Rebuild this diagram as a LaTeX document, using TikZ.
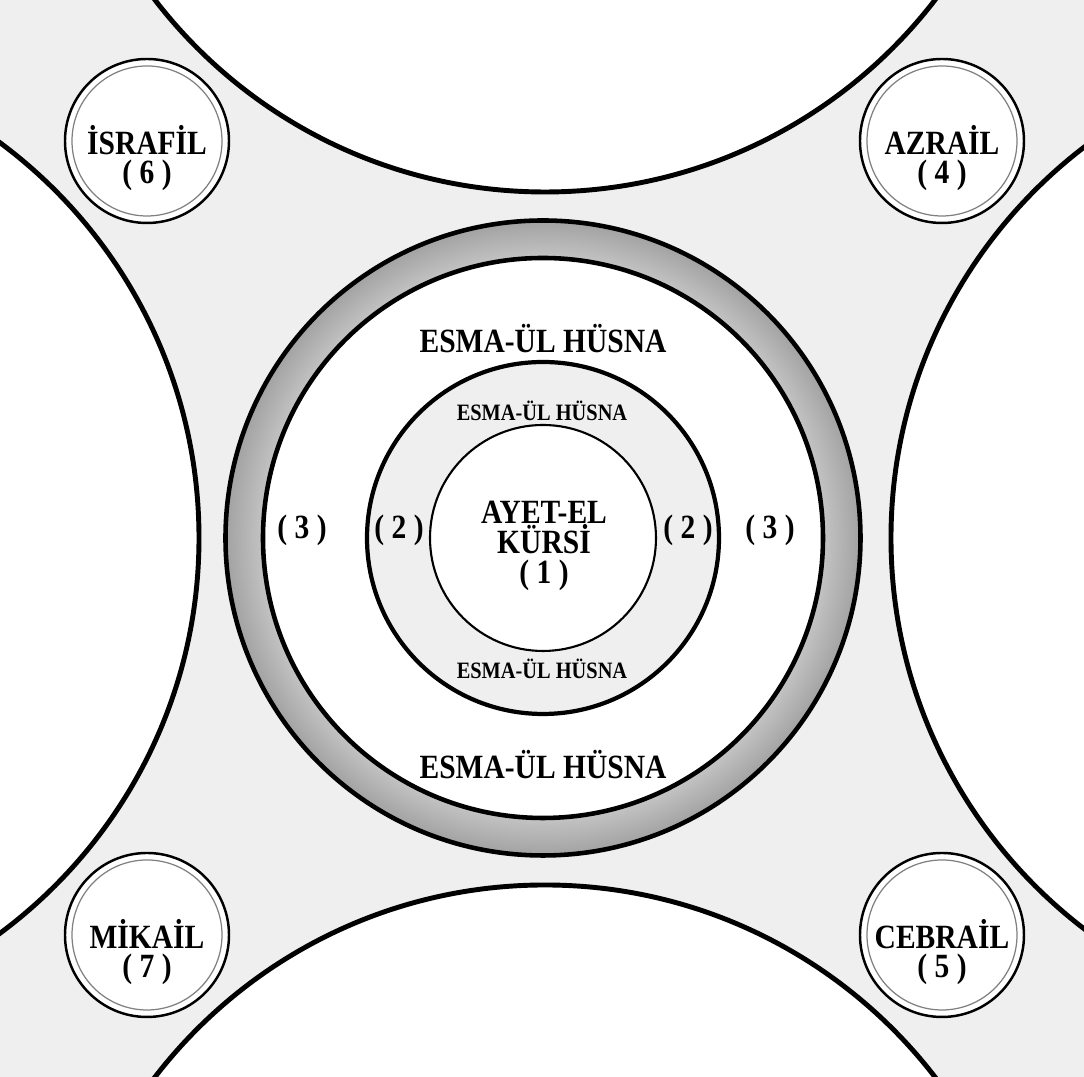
\documentclass[tikz,border=0pt]{standalone}
\usepackage{fontspec}
\setmainfont{Liberation Serif}
\usepackage{xcolor}
\usepackage{tikz}
\definecolor{bggray}{HTML}{EFEFEF}
\definecolor{ringlight}{HTML}{C4C4C4}
\definecolor{ringdark}{HTML}{A2A2A2}
\pgfdeclareradialshading{ringshade}{\pgfpoint{0bp}{0bp}}{color(0bp)=(ringlight); color(22bp)=(ringlight); color(25bp)=(ringdark); color(50bp)=(ringdark)}
\newcommand{\labelfont}[1]{\fontsize{8.4}{#1}\selectfont\bfseries\lineskiplimit=-10pt\relax}

\begin{document}
\begin{tikzpicture}[
    whitedisc/.style={draw=black, line width=1.4pt, fill=white},
    angel/.style={circle, draw=black, line width=0.7pt, fill=white, minimum size=1.64cm, inner sep=0pt},
    bigtext/.style={font=\labelfont{6.9}, align=center, inner sep=0pt, yscale=1.15},
    smalltext/.style={font=\fontsize{5.8}{6.5}\selectfont\bfseries, inner sep=0pt, yscale=1.15}
  ]
    \useasboundingbox (0,0) rectangle (10.84,10.77);
    \fill[bggray] (0,0) rectangle (10.84,10.77);
    \begin{scope}
        \clip (0,0) rectangle (10.84,10.77);
        \draw[whitedisc] (5.45,13.77) circle (4.92);
        \draw[whitedisc] (5.45,-3.00) circle (4.92);
        \draw[whitedisc] (-2.93,5.39) circle (4.92);
        \draw[whitedisc] (13.83,5.39) circle (4.92);
    \end{scope}

    \coordinate (O) at (5.43,5.39);
    \shade[shading=ringshade] (O) circle (3.175);
    \draw[line width=1.3pt] (O) circle (3.175);
    \draw[line width=1.3pt, fill=white] (O) circle (2.80);
    \draw[line width=1.2pt, fill=bggray] (O) circle (1.76);
    \draw[line width=0.6pt, fill=white] (O) circle (1.13);

    \node[bigtext] (esmaouttop) at (5.43,7.38) {ESMA-ÜL HÜSNA};
    \node[bigtext] (esmaoutbot) at (5.43,3.12) {ESMA-ÜL HÜSNA};
    \node[smalltext] (esmaintop) at (5.42,6.66) {ESMA-ÜL HÜSNA};
    \node[smalltext] (esmainbot) at (5.42,4.08) {ESMA-ÜL HÜSNA};
    \node[bigtext] (threeleft) at (3.02,5.47) {( 3 )};
    \node[bigtext] (threeright) at (7.70,5.47) {( 3 )};
    \node[bigtext] (twoleft) at (3.99,5.47) {( 2 )};
    \node[bigtext] (tworight) at (6.88,5.47) {( 2 )};
    \node[bigtext, font=\labelfont{7.5}] (kursi) at (5.44,5.31) {AYET-EL\\KÜRSİ\\( 1 )};

    \node[angel] (israfil) at (1.47,9.36) {};
    \node[angel] (azrail) at (9.42,9.36) {};
    \node[angel] (mikail) at (1.47,1.42) {};
    \node[angel] (cebrail) at (9.42,1.42) {};
    \draw[gray, line width=0.35pt] (israfil) circle (0.75);
    \draw[gray, line width=0.35pt] (azrail) circle (0.75);
    \draw[gray, line width=0.35pt] (mikail) circle (0.75);
    \draw[gray, line width=0.35pt] (cebrail) circle (0.75);
    \node[bigtext, font=\labelfont{7.2}] (israfiltext) at ([yshift=-0.17cm]israfil.center) {İSRAFİL\\( 6 )};
    \node[bigtext, font=\labelfont{7.2}] (azrailtext) at ([yshift=-0.17cm]azrail.center) {AZRAİL\\( 4 )};
    \node[bigtext, font=\labelfont{7.2}] (mikailtext) at ([yshift=-0.17cm]mikail.center) {MİKAİL\\( 7 )};
    \node[bigtext, font=\labelfont{7.2}] (cebrailtext) at ([yshift=-0.17cm]cebrail.center) {CEBRAİL\\( 5 )};
\end{tikzpicture}
\end{document}
